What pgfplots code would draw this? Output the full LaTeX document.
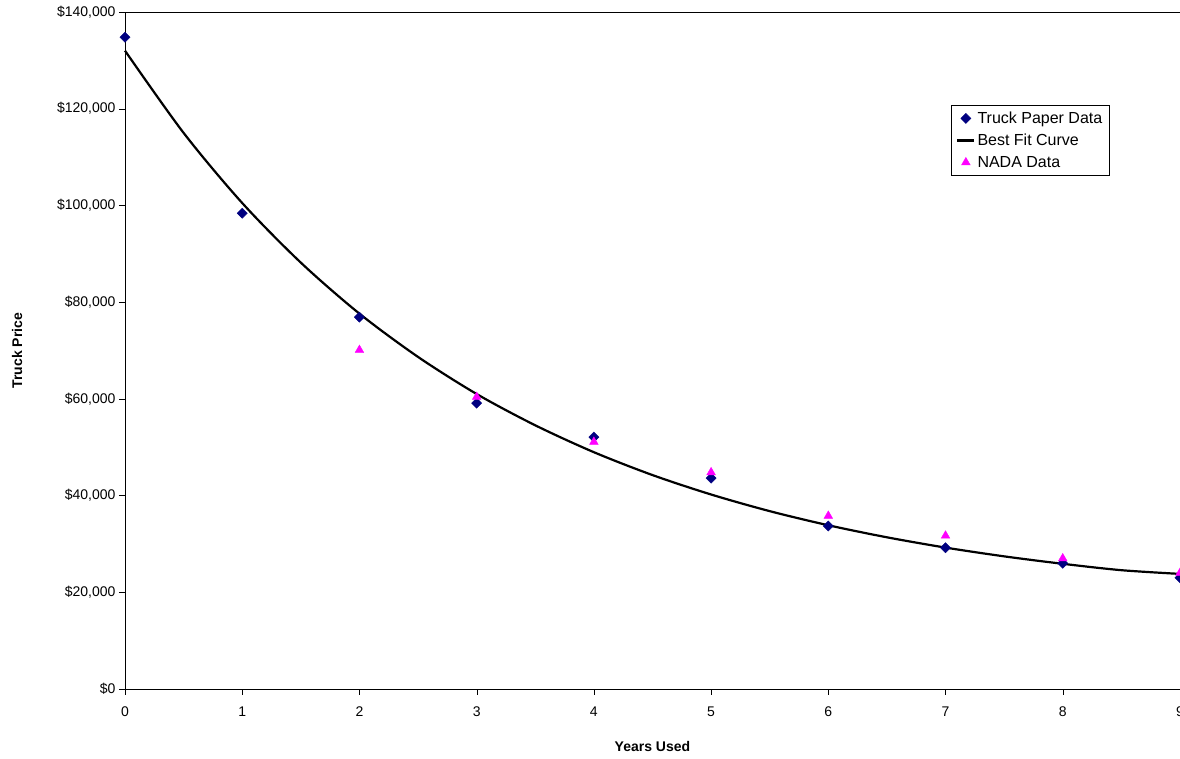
\documentclass[border=0pt]{standalone}
\usepackage{pgfplots}
\pgfplotsset{compat=1.18}
\usepackage{fontspec}
\setmainfont{Liberation Sans}
\begin{document}
\begin{tikzpicture}
\begin{axis}[at={(0,0)},anchor=south west,
 scale only axis, width=1055pt, height=677pt,
 xmin=0,xmax=9,ymin=0,ymax=140000,
 xtick={0,...,9}, ytick={0,20000,...,140000},
 yticklabels={\$0,\$20{,}000,\$40{,}000,\$60{,}000,\$80{,}000,\$100{,}000,\$120{,}000,\$140{,}000},
 scaled y ticks=false,
 tick align=outside, tick style={black}, major tick length=6pt,
 xtick pos=bottom, ytick pos=left,
 ticklabel style={font=\fontsize{14}{16}\selectfont},
 xticklabel style={yshift=-8pt},
 /pgf/number format/assume math mode=true,
 xlabel={\textbf{Years Used}}, ylabel={\textbf{Truck Price}},
 label style={font=\fontsize{14}{16}\selectfont},
 xlabel style={yshift=-18pt}, ylabel style={yshift=28pt},
 legend style={at={(0.783,0.863)},anchor=north west,draw=black,font=\fontsize{16}{18}\selectfont,
   cells={anchor=west}, row sep=5pt, inner sep=5pt},
 legend cell align=left,
 clip=false]
\addplot[only marks, mark=square*, mark options={rotate=45}, mark size=3.6pt, color={rgb,255:red,0;green,0;blue,128}]
 coordinates {(0,134800)(1,98400)(2,76900)(3,59100)(4,52100)(5,43600)(6,33700)(7,29200)(8,26000)(9,23000)};
\addlegendentry{Truck Paper Data}
\addplot[black, line width=2.2pt, smooth, no markers]
 coordinates {(0,132000)(0.5,115000)(1,100500)(1.5,88170)(2,77620)(2.5,68670)(3,61000)(3.5,54530)(4,48970)(4.5,44240)(5,40220)(5.5,36780)(6,33860)(6.5,31370)(7,29240)(7.5,27430)(8,25890)(8.5,24570)(9,23800)};
\addlegendentry{Best Fit Curve}
\addplot[only marks, mark=triangle*, mark size=5pt, color={rgb,255:red,255;green,0;blue,255}]
 coordinates {(2,70100)(3,60400)(4,51100)(5,44800)(6,35800)(7,31700)(8,27000)(9,24000)};
\addlegendentry{NADA Data}
\end{axis}
\pgfresetboundingbox
\path (-125pt,-70pt) rectangle (1055pt,689pt);
\end{tikzpicture}
\end{document}
